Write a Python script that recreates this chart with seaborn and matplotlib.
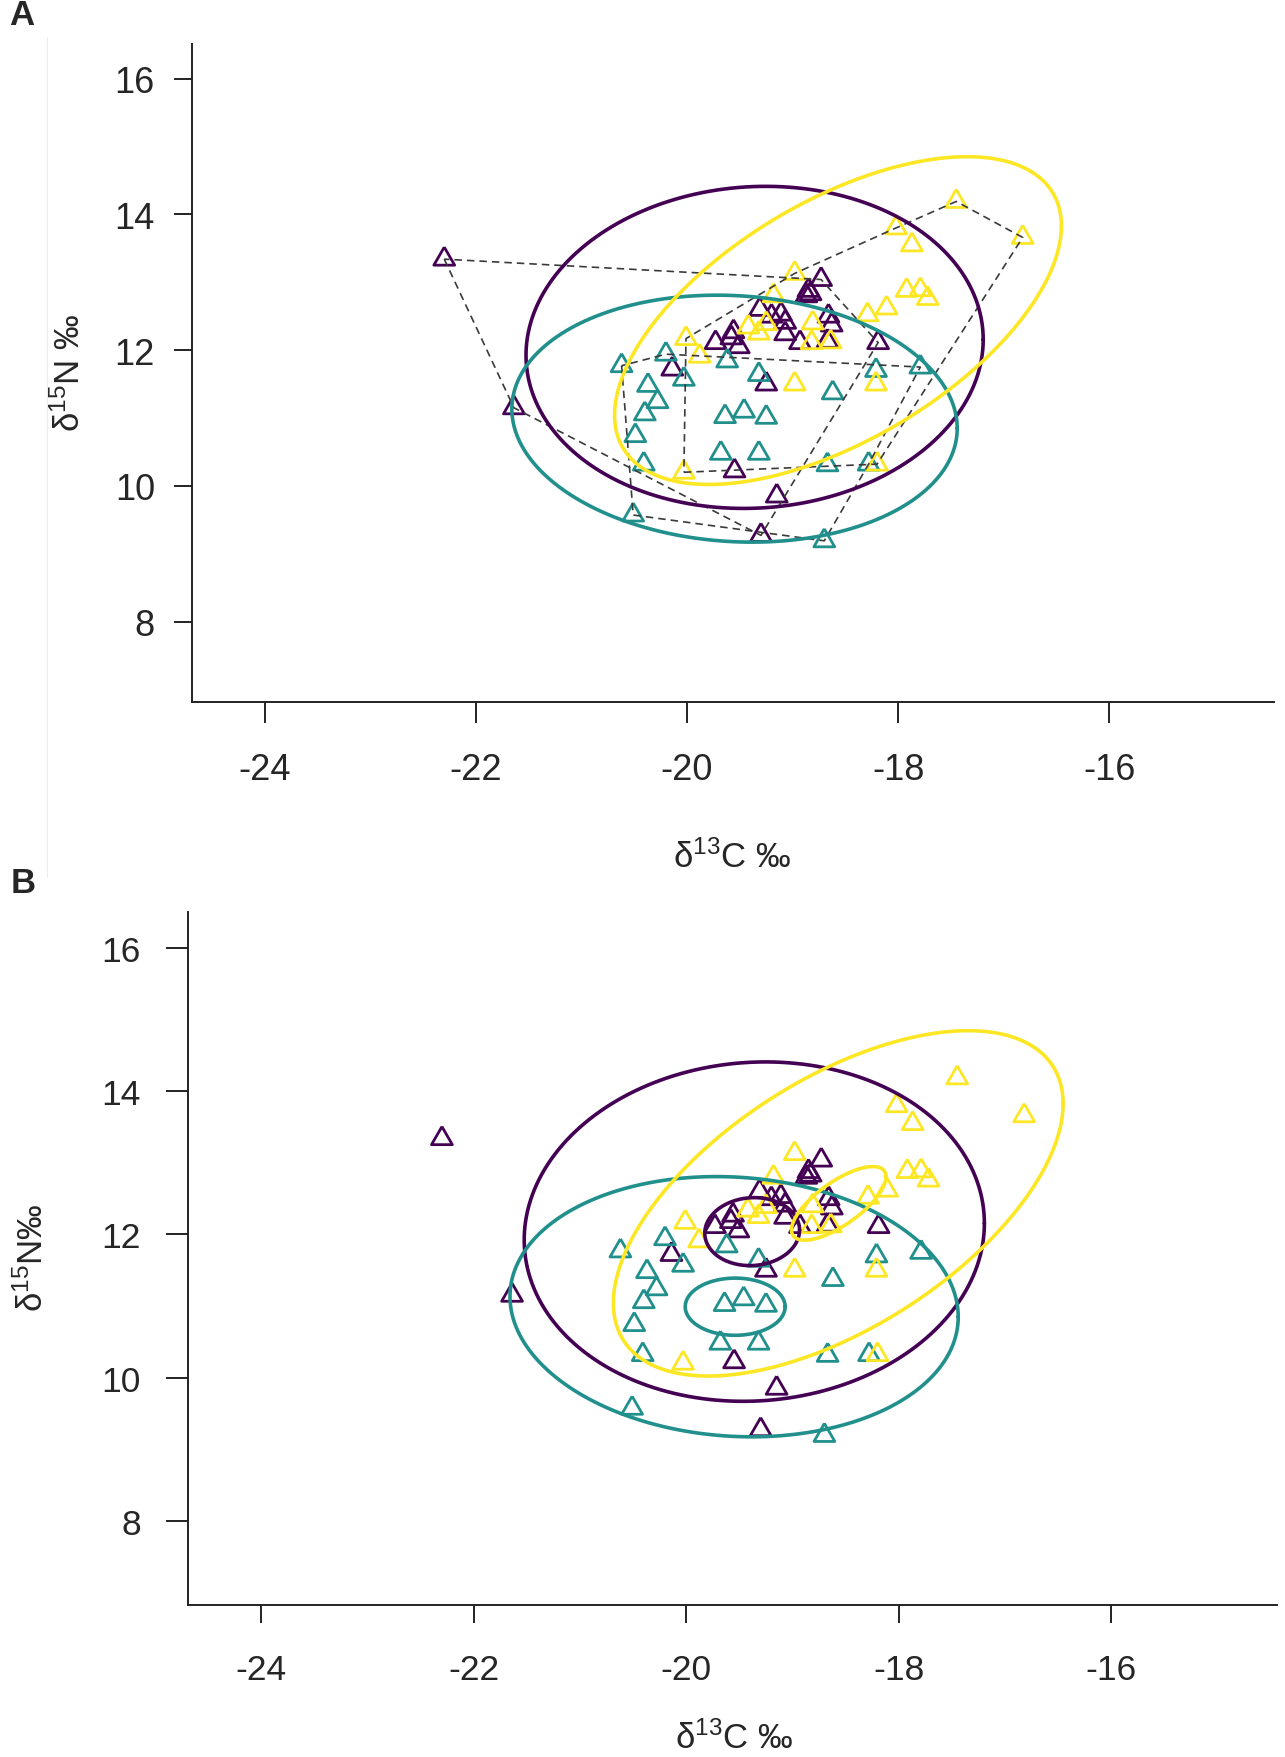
import numpy as np
import pandas as pd
import matplotlib
matplotlib.use('Agg')
import matplotlib.pyplot as plt
import seaborn as sns

# 3群の安定同位体データ (δ13C, δ15N)
group_names = ['G1', 'G2', 'G3']
group_colors = ['#440154', '#21908C', '#FDE725']

g1_c = [-22.30, -21.64, -20.14, -19.55, -19.15, -19.30, -19.25, -19.73, -19.51,
        -19.58, -19.56, -19.31, -19.20, -19.11, -19.07, -19.07, -18.93, -18.85,
        -18.83, -18.87, -18.73, -18.66, -18.63, -18.67, -18.19]
g1_n = [13.34, 11.15, 11.72, 10.22, 9.85, 9.27, 11.50, 12.11, 12.05,
        12.18, 12.27, 12.60, 12.50, 12.53, 12.41, 12.24, 12.11, 12.88,
        12.83, 12.80, 13.04, 12.50, 12.37, 12.13, 12.11]

g2_c = [-20.62, -20.20, -20.03, -20.37, -20.28, -20.40, -20.49, -20.41, -20.51,
        -19.62, -19.32, -19.64, -19.46, -19.25, -19.68, -19.32, -18.62, -18.21,
        -17.79, -18.67, -18.28, -18.70]
g2_n = [11.77, 11.94, 11.57, 11.48, 11.24, 11.06, 10.74, 10.32, 9.57,
        11.84, 11.64, 11.02, 11.10, 11.01, 10.48, 10.48, 11.37, 11.70,
        11.75, 10.31, 10.32, 9.19]

g3_c = [-17.45, -16.82, -18.02, -17.87, -17.92, -17.79, -17.72, -18.29, -18.11,
        -18.98, -19.18, -19.25, -19.42, -19.32, -20.01, -19.88, -18.81, -18.82,
        -18.64, -18.98, -18.21, -18.20, -20.03]
g3_n = [14.19, 13.66, 13.80, 13.55, 12.88, 12.89, 12.76, 12.52, 12.62,
        13.13, 12.80, 12.39, 12.34, 12.25, 12.17, 11.91, 12.40, 12.11,
        12.12, 11.50, 11.50, 10.32, 10.20]

# 標準楕円 (中心と形状行列)
sea_cx = [-19.36, -19.55, -18.57]
sea_cy = [12.04, 10.99, 12.435]
sea_sxx = [4.69, 4.45, 4.48]
sea_syy = [5.63, 3.31, 5.83]
sea_sxy = [0.25, -0.30, 2.95]

# 平均の信頼楕円 (パネルBのみ)
mean_cx = [-19.38, -19.54, -18.565]
mean_cy = [12.04, 10.99, 12.435]
mean_sxx = [0.199, 0.221, 0.198]
mean_syy = [0.226, 0.160, 0.265]
mean_sxy = [0.01, 0.0, 0.165]

x_ticks = [-24, -22, -20, -18, -16]
y_ticks = [8, 10, 12, 14, 16]

df = pd.concat([
    pd.DataFrame({'d13C': g1_c, 'd15N': g1_n, 'group': 'G1'}),
    pd.DataFrame({'d13C': g2_c, 'd15N': g2_n, 'group': 'G2'}),
    pd.DataFrame({'d13C': g3_c, 'd15N': g3_n, 'group': 'G3'}),
], ignore_index=True)


def convex_hull(pts):
    pts = sorted(set(pts))
    def cross(o, a, b):
        return (a[0] - o[0]) * (b[1] - o[1]) - (a[1] - o[1]) * (b[0] - o[0])
    lower, upper = [], []
    for p in pts:
        while len(lower) >= 2 and cross(lower[-2], lower[-1], p) <= 0:
            lower.pop()
        lower.append(p)
    for p in reversed(pts):
        while len(upper) >= 2 and cross(upper[-2], upper[-1], p) <= 0:
            upper.pop()
        upper.append(p)
    hull = lower[:-1] + upper[:-1]
    return hull + [hull[0]]


def ellipse_xy(cx, cy, sxx, syy, sxy, n=200):
    L = np.linalg.cholesky(np.array([[sxx, sxy], [sxy, syy]]))
    t = np.linspace(0, 2 * np.pi, n)
    xy = L @ np.vstack([np.cos(t), np.sin(t)])
    return cx + xy[0], cy + xy[1]


sns.set_style('ticks')
plt.rcParams['axes.unicode_minus'] = False
plt.rcParams['mathtext.default'] = 'regular'
plt.rcParams['font.family'] = ['Liberation Sans', 'DejaVu Sans']

# Rの pch=2 に近い正三角形 (閉じたパス)
tri = [(0, 1), (0.866, -0.5), (-0.866, -0.5), (0, 1)]

fig = plt.figure(figsize=(12.85, 17.58), dpi=100)
axA = fig.add_axes([0.1494, 0.6003, 0.8420, 0.3741])
axB = fig.add_axes([0.1463, 0.0865, 0.8475, 0.3942])

fam = ['Liberation Sans', 'DejaVu Sans']
panels = [(axA, 26, 'hull'), (axB, 25.5, 'mean')]

for ax, fs, extra in panels:
    sns.scatterplot(data=df, x='d13C', y='d15N', hue='group', palette=group_colors,
                    marker=tri, s=300, linewidth=2.0, legend=False, ax=ax, zorder=2)
    pts = ax.collections[-1]
    pts.set_edgecolors(pts.get_facecolors())
    pts.set_facecolors('none')

    if extra == 'hull':
        for g in group_names:
            sub = df[df['group'] == g]
            h = convex_hull(list(zip(sub['d13C'], sub['d15N'])))
            ax.plot([p[0] for p in h], [p[1] for p in h], color='#3a3a3a',
                    lw=1.2, ls=(0, (4.5, 3)), zorder=3)

    for i in range(3):
        ex, ey = ellipse_xy(sea_cx[i], sea_cy[i], sea_sxx[i], sea_syy[i], sea_sxy[i])
        ax.plot(ex, ey, color=group_colors[i], lw=2.6, zorder=4)
        if extra == 'mean':
            ex, ey = ellipse_xy(mean_cx[i], mean_cy[i], mean_sxx[i], mean_syy[i], mean_sxy[i])
            ax.plot(ex, ey, color=group_colors[i], lw=2.6, zorder=4)

    ax.set_xlim(-24.69, -14.44)
    ax.set_ylim(6.82, 16.51)
    ax.set_xticks(x_ticks)
    ax.set_yticks(y_ticks)
    ax.set_xticklabels([str(v) for v in x_ticks], family=fam, fontsize=fs)
    ax.set_yticklabels([str(v) for v in y_ticks], family=fam, fontsize=fs)
    ax.set_xlabel('')
    ax.set_ylabel('')
    for s in ['top', 'right']:
        ax.spines[s].set_visible(False)
    for s in ['left', 'bottom']:
        ax.spines[s].set_linewidth(1.4)
        ax.spines[s].set_color('#222222')

axA.tick_params(axis='x', length=15.3, width=1.4, pad=21, color='#222222')
axA.tick_params(axis='y', length=12.7, width=1.4, pad=14, color='#222222')
axB.tick_params(axis='x', length=13.3, width=1.4, pad=21, color='#222222')
axB.tick_params(axis='y', length=16, width=1.4, pad=18, color='#222222')

# 軸ラベル
fig.text(0.570, 1 - 868 / 1758, 'δ$^{13}$C ‰', ha='center', va='baseline',
         fontsize=25, family=fam)
fig.text(0.0545, 1 - 373 / 1758, 'δ$^{15}$N ‰', ha='center', va='center', rotation=90,
         fontsize=25, family=fam)
fig.text(0.571, 1 - 1749 / 1758, 'δ$^{13}$C ‰', ha='center', va='baseline',
         fontsize=25, family=fam)
fig.text(0.0257, 1 - 1258 / 1758, 'δ$^{15}$N‰', ha='center', va='center', rotation=90,
         fontsize=25, family=fam)

# パネル記号
fig.text(9 / 1285, 1 - 25 / 1758, 'A', ha='left', va='baseline', fontsize=25,
         fontweight='bold', family=fam)
fig.text(11 / 1285, 1 - 893 / 1758, 'B', ha='left', va='baseline', fontsize=25,
         fontweight='bold', family=fam)

# 元画像の薄い境界線
fig.add_artist(plt.Line2D([47 / 1285, 47 / 1285], [1 - 38 / 1758, 1 - 878 / 1758],
                          color='#ededed', lw=0.8, transform=fig.transFigure))

fig.savefig('out.png', dpi=100)
